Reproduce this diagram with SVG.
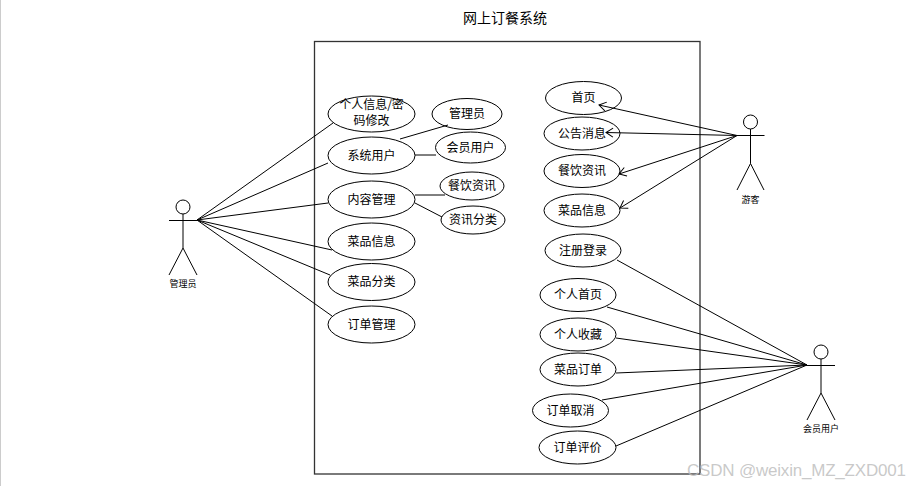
<svg xmlns="http://www.w3.org/2000/svg" width="910" height="486" viewBox="0 0 910 486">
<style>
text{font-family:"Noto Sans CJK SC","Liberation Sans",sans-serif;fill:#000;text-anchor:middle}
.n ellipse{fill:#fff;stroke:#000;stroke-width:1}
.n text{font-size:12px;letter-spacing:0}
.a circle{fill:#fff;stroke:#000}
.a path{fill:none;stroke:#000}
.a text{font-size:9px}
#connectors path{fill:none;stroke:#000;stroke-width:1}
</style>
<defs>
<marker id="open" markerUnits="userSpaceOnUse" markerWidth="14" markerHeight="14" refX="8" refY="7" orient="auto"><path d="M1 2.500L8 7L1 11.500" fill="none" stroke="#000"/></marker>
</defs>
<rect width="910" height="486" fill="#fff"/>
<path d="M0.500 0V486" stroke="#ccc" fill="none"/>
<text id="title" x="505" y="23" style="font-size:14px">网上订餐系统</text>
<rect id="system" x="314.500" y="41.500" width="385.500" height="432.500" fill="none" stroke="#333" stroke-width="1.300"/>
<g id="u1" class="n"><ellipse cx="371.500" cy="114" rx="43.500" ry="18"/><text x="371.500" y="109">个人信息/密</text><text x="371.500" y="125">码修改</text></g>
<g id="u2" class="n"><ellipse cx="371.500" cy="155.500" rx="43.500" ry="18.500"/><text x="371.500" y="160">系统用户</text></g>
<g id="u3" class="n"><ellipse cx="371.500" cy="199.500" rx="43.500" ry="18.500"/><text x="371.500" y="204">内容管理</text></g>
<g id="u4" class="n"><ellipse cx="371.500" cy="241.500" rx="43.500" ry="18.500"/><text x="371.500" y="246">菜品信息</text></g>
<g id="u5" class="n"><ellipse cx="371.500" cy="282" rx="43.500" ry="18.500"/><text x="371.500" y="286">菜品分类</text></g>
<g id="u6" class="n"><ellipse cx="371.500" cy="324.500" rx="43.500" ry="18.500"/><text x="371.500" y="329">订单管理</text></g>
<g id="u7" class="n"><ellipse cx="467" cy="114" rx="35" ry="15.500"/><text x="467" y="118">管理员</text></g>
<g id="u8" class="n"><ellipse cx="470.500" cy="147.500" rx="35" ry="15.500"/><text x="470.500" y="152">会员用户</text></g>
<g id="u9" class="n"><ellipse cx="472" cy="186" rx="32" ry="14"/><text x="472" y="190">餐饮资讯</text></g>
<g id="u10" class="n"><ellipse cx="473" cy="220" rx="32" ry="14"/><text x="473" y="224">资讯分类</text></g>
<g id="u11" class="n"><ellipse cx="583.500" cy="98" rx="38" ry="16.500"/><text x="583.500" y="102">首页</text></g>
<g id="u12" class="n"><ellipse cx="582" cy="133.500" rx="38" ry="16.500"/><text x="582" y="138">公告消息</text></g>
<g id="u13" class="n"><ellipse cx="582" cy="171" rx="38" ry="16.500"/><text x="582" y="175">餐饮资讯</text></g>
<g id="u14" class="n"><ellipse cx="582" cy="210.500" rx="38" ry="16.500"/><text x="582" y="215">菜品信息</text></g>
<g id="u15" class="n"><ellipse cx="583" cy="250.500" rx="38" ry="16.500"/><text x="583" y="255">注册登录</text></g>
<g id="u16" class="n"><ellipse cx="578" cy="295" rx="38" ry="16.500"/><text x="578" y="299">个人首页</text></g>
<g id="u17" class="n"><ellipse cx="578" cy="334.500" rx="38" ry="16.500"/><text x="578" y="339">个人收藏</text></g>
<g id="u18" class="n"><ellipse cx="578" cy="369.500" rx="38" ry="16.500"/><text x="578" y="374">菜品订单</text></g>
<g id="u19" class="n"><ellipse cx="570.500" cy="410.500" rx="38" ry="16.500"/><text x="570.500" y="415">订单取消</text></g>
<g id="u20" class="n"><ellipse cx="577.500" cy="447.500" rx="38.500" ry="16.500"/><text x="577.500" y="452">订单评价</text></g>
<g id="admin" class="a"><circle cx="183" cy="207" r="7"/><path d="M169 220.500H197M183 214V248L169 275M183 248L197 275"/><text x="183" y="287">管理员</text></g>
<g id="guest" class="a"><circle cx="750.500" cy="122" r="7"/><path d="M737 135.500H764.500M750.500 129V163.500L737 190M750.500 163.500L764 190"/><text x="750.500" y="203">游客</text></g>
<g id="member" class="a"><circle cx="821" cy="352" r="7"/><path d="M807 365.500H835M821 359V393L807 420M821 393L835 420"/><text x="821" y="432">会员用户</text></g>
<g id="connectors">
<path d="M197 220L333 123"/><path d="M197 220L328 163"/><path d="M197 220L328 203"/><path d="M197 220L332 250"/><path d="M197 220L330 275"/><path d="M197 220L332 316"/>
<path d="M400 139L448 125"/><path d="M415 155H436"/><path d="M415 195H445"/><path d="M415 203L442 217"/>
<path d="M737 135.500L599 105" marker-end="url(#open)"/><path d="M737 135.500L606 132.500" marker-end="url(#open)"/><path d="M737 135.500L619 174" marker-end="url(#open)"/><path d="M737 135.500L620 208" marker-end="url(#open)"/>
<path d="M807 365L617 260"/><path d="M807 365L607 307"/><path d="M807 365L616 338"/><path d="M807 365L616 373"/><path d="M807 365L602 400"/><path d="M807 365L616 446"/>
</g>
<text id="watermark" x="796.500" y="476" textLength="219" style="font-size:17px;font-family:'Liberation Sans',sans-serif;fill:#bbb;fill-opacity:.8">CSDN @weixin_MZ_ZXD001</text>
</svg>
